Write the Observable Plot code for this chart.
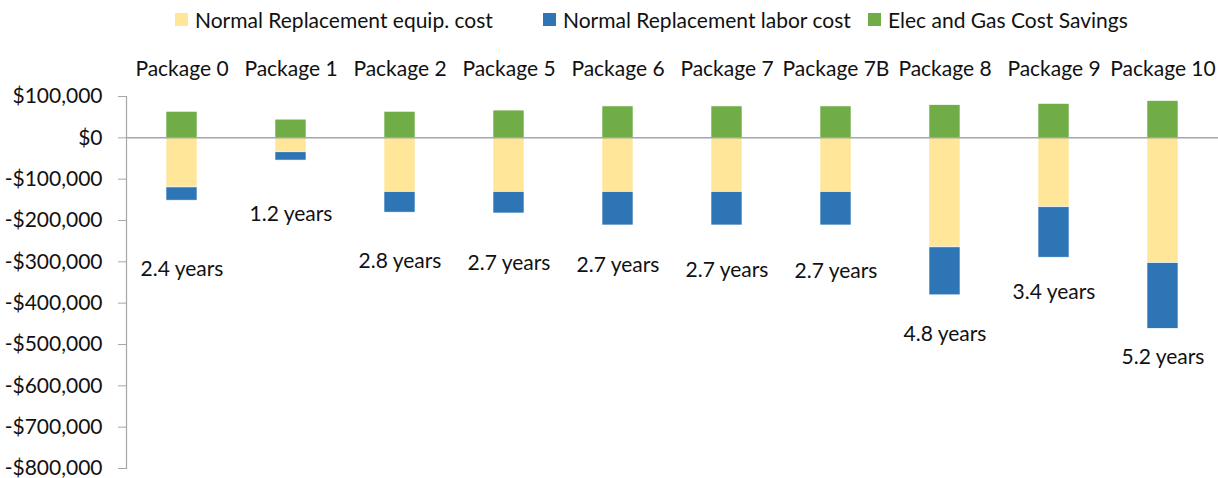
<!DOCTYPE html>
<html>
<head>
<meta charset="utf-8">
<script src="https://cdn.jsdelivr.net/npm/d3@7"></script>
<script src="https://cdn.jsdelivr.net/npm/@observablehq/plot@0.6"></script>
<style>
  html, body { margin: 0; padding: 0; background: #fff; }
  body { width: 1218px; height: 478px; overflow: hidden; font-family: Lato, "Open Sans", sans-serif; }
  #legend { position: relative; height: 40px; font-size: 21px; color: #111; }
  .item { position: absolute; top: 7px; display: flex; align-items: center; white-space: nowrap; }
  .sw { width: 13px; height: 13px; margin-right: 7px; display: inline-block; }
</style>
</head>
<body>
<div id="legend"></div>
<div id="chart"></div>
<script>
const packages = ["Package 0","Package 1","Package 2","Package 5","Package 6","Package 7","Package 7B","Package 8","Package 9","Package 10"];
const equipCost = [-120000,-35000,-131000,-131000,-131000,-131000,-131000,-265000,-168000,-303000];
const laborCost = [-32000,-20000,-50000,-52000,-81000,-81000,-81000,-116000,-122000,-159000];
const savings = [63000,44000,63000,66000,76000,76000,76000,79000,82000,89000];
const paybackYears = [2.4,1.2,2.8,2.7,2.7,2.7,2.7,4.8,3.4,5.2];
const paybackLabelY = [-318000,-185000,-298000,-304000,-309000,-320000,-324000,-475000,-374000,-530000];
const seriesNames = ["Normal Replacement equip. cost","Normal Replacement labor cost","Elec and Gas Cost Savings"];
const seriesColors = ["#FFE699","#2E75B6","#70AD47"];
const yTicks = [100000,0,-100000,-200000,-300000,-400000,-500000,-600000,-700000,-800000];

const legendX = [175, 543, 868];
const legend = document.getElementById("legend");
seriesNames.forEach((n, i) => {
  const d = document.createElement("div");
  d.className = "item";
  d.style.left = legendX[i] + "px";
  d.innerHTML = `<span class="sw" style="background:${seriesColors[i]}"></span><span>${n}</span>`;
  legend.appendChild(d);
});

const rows = [];
packages.forEach((p, i) => {
  rows.push({pkg: p, series: seriesNames[0], value: equipCost[i]});
  rows.push({pkg: p, series: seriesNames[1], value: laborCost[i]});
  rows.push({pkg: p, series: seriesNames[2], value: savings[i]});
});
const labels = packages.map((p, i) => ({pkg: p, y: paybackLabelY[i], text: paybackYears[i].toFixed(1) + " years"}));

const fmt = v => (v < 0 ? "-$" : "$") + d3.format(",")(Math.abs(v));

const chart = Plot.plot({
  width: 1218,
  height: 438,
  marginLeft: 126,
  marginRight: 0,
  marginTop: 56,
  marginBottom: 10,
  style: {fontFamily: "Lato, 'Open Sans', sans-serif", fontSize: "21px", color: "#111"},
  x: {domain: packages, paddingInner: 0.72, paddingOuter: 0.36},
  y: {domain: [-800000, 100000]},
  color: {domain: seriesNames, range: seriesColors},
  marks: [
    Plot.barY(rows, Plot.stackY({order: seriesNames}, {x: "pkg", y: "value", fill: "series", stroke: "white", strokeWidth: 0.6})),
    Plot.ruleY([0], {stroke: "#a6a6a6", strokeWidth: 1.5}),
    Plot.frame({anchor: "left", stroke: "#a6a6a6", strokeWidth: 1.2}),
    Plot.axisY({ticks: yTicks, tickFormat: fmt, tickSize: 8, tickPadding: 16, stroke: "#a6a6a6", label: null, fontSize: 21}),
    Plot.axisX({anchor: "top", tickSize: 0, tickPadding: 21, label: null, fontSize: 21}),
    Plot.text(labels, {x: "pkg", y: "y", text: "text", fontSize: 21, fill: "#111"})
  ]
});
document.getElementById("chart").appendChild(chart);
</script>
</body>
</html>
